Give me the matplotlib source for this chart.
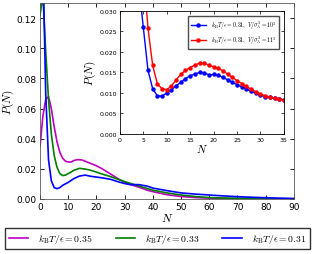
import matplotlib
matplotlib.use("Agg")
import matplotlib.pyplot as plt

plt.rcParams['mathtext.fontset'] = 'cm'
plt.rcParams['font.family'] = 'DejaVu Sans'

# Main panel: cluster size distribution P(N) for three temperatures
n_035 = [0, 1, 2, 3, 4, 5, 6, 7, 8, 9, 10, 11, 12, 13, 14, 15, 16, 18, 20, 22, 25, 28,
         30, 32, 35, 38, 40, 45, 50, 55, 60, 65, 70, 75, 80, 85, 90]
p_035 = [0.035, 0.055, 0.066, 0.068, 0.060, 0.048, 0.038, 0.031, 0.027, 0.025, 0.0245,
         0.0245, 0.0255, 0.026, 0.026, 0.0258, 0.025, 0.0235, 0.022, 0.020, 0.0165, 0.013,
         0.011, 0.0095, 0.0078, 0.0058, 0.0048, 0.0028, 0.0016, 0.0009, 0.0005, 0.0003,
         0.0002, 0.0001, 0.0001, 0.00005, 0.0]

n_033 = [0, 1, 2, 3, 4, 5, 6, 7, 8, 9, 10, 12, 14, 16, 18, 20, 22, 25, 28, 30, 35, 40,
         45, 50, 55, 60, 65, 70, 75, 80, 85, 90]
p_033 = [0.122, 0.135, 0.098, 0.066, 0.043, 0.029, 0.021, 0.0168, 0.0155, 0.0158, 0.0168,
         0.019, 0.0203, 0.0198, 0.019, 0.0178, 0.0165, 0.0148, 0.0128, 0.0115, 0.0086,
         0.0058, 0.004, 0.0026, 0.0016, 0.0009, 0.0006, 0.0004, 0.0003, 0.0002, 0.0001, 0.0]

n_031 = [0, 1, 2, 3, 4, 5, 6, 7, 8, 9, 10, 12, 14, 16, 18, 20, 22, 25, 28, 30, 32, 35,
         38, 40, 45, 50, 55, 60, 65, 70, 75, 80, 85, 90]
p_031 = [0.36, 0.16, 0.07, 0.026, 0.012, 0.0075, 0.0068, 0.0075, 0.009, 0.010, 0.011,
         0.0135, 0.0152, 0.0158, 0.015, 0.0145, 0.014, 0.013, 0.0112, 0.0102, 0.0095,
         0.0095, 0.0085, 0.0072, 0.0055, 0.004, 0.0032, 0.0026, 0.002, 0.0015, 0.0011,
         0.0008, 0.0005, 0.0003]

# Inset: kBT/eps = 0.31 for two box volumes
n_inset = list(range(4, 36))
p_v10 = [0.0368, 0.026, 0.0155, 0.011, 0.0093, 0.0092, 0.010, 0.0108, 0.0117, 0.0126,
         0.0135, 0.0142, 0.0146, 0.015, 0.0149, 0.0144, 0.0145, 0.0143, 0.0138, 0.0132,
         0.0126, 0.012, 0.0115, 0.011, 0.0104, 0.0099, 0.0094, 0.0091, 0.0089, 0.0087,
         0.0085, 0.0083]
p_v11 = [0.06, 0.040, 0.0258, 0.0167, 0.0122, 0.011, 0.0108, 0.0117, 0.0132, 0.0145,
         0.0155, 0.0162, 0.0168, 0.0173, 0.0172, 0.0168, 0.0164, 0.016, 0.0154, 0.0146,
         0.0138, 0.013, 0.0123, 0.0116, 0.0109, 0.0103, 0.0097, 0.0093, 0.009, 0.0087,
         0.0085, 0.0083]

main_labels = [r'$k_{\rm B}T/\epsilon=0.35$', r'$k_{\rm B}T/\epsilon=0.33$',
               r'$k_{\rm B}T/\epsilon=0.31$']
inset_labels = [r'$k_{\rm B}T/\epsilon=0.31,\ V/\sigma_{\rm A}^3=10^3$',
                r'$k_{\rm B}T/\epsilon=0.31,\ V/\sigma_{\rm A}^3=11^3$']

fig = plt.figure(figsize=(3.13, 2.55), dpi=100)
ax = fig.add_axes([0.128, 0.216, 0.811, 0.768])

l1, = ax.plot(n_035, p_035, color='m', lw=1.2, label=main_labels[0])
l2, = ax.plot(n_033, p_033, color='g', lw=1.2, label=main_labels[1])
l3, = ax.plot(n_031, p_031, color='b', lw=1.2, label=main_labels[2])

ax.set_xlim(0, 90)
ax.set_ylim(0, 0.13)
ax.set_xticks(range(0, 91, 10))
ax.set_yticks([0.00, 0.02, 0.04, 0.06, 0.08, 0.10, 0.12])
ax.set_yticklabels(['0.00', '0.02', '0.04', '0.06', '0.08', '0.10', '0.12'])
ax.tick_params(direction='in', top=True, right=True, labelsize=6.5, length=3, width=0.6,
               pad=2.5)
ax.set_xlabel(r'$N$', fontsize=8.5, labelpad=0)
ax.set_ylabel(r'$P(N)$', fontsize=8, labelpad=0.5)
for s in ax.spines.values():
    s.set_linewidth(0.6)
    s.set_color('0.35')

# Inset
axi = fig.add_axes([0.383, 0.471, 0.524, 0.482])
axi.plot(n_inset, p_v10, color='b', lw=1.0, marker='o', ms=2.2, mec='b',
         label=inset_labels[0])
axi.plot(n_inset, p_v11, color='r', lw=1.0, marker='o', ms=2.2, mec='r',
         label=inset_labels[1])
axi.set_xlim(0, 35)
axi.set_ylim(0, 0.030)
axi.set_xticks(range(0, 36, 5))
axi.set_yticks([0.000, 0.005, 0.010, 0.015, 0.020, 0.025, 0.030])
axi.set_yticklabels(['0.000', '0.005', '0.010', '0.015', '0.020', '0.025', '0.030'])
axi.tick_params(direction='in', top=True, right=True, labelsize=4.5, length=2, width=0.5,
                pad=2)
axi.set_xlabel(r'$N$', fontsize=8, labelpad=0)
axi.set_ylabel(r'$P(N)$', fontsize=8, labelpad=1)
for s in axi.spines.values():
    s.set_linewidth(0.6)
axi.legend(loc='upper right', fontsize=4.2, handlelength=2.6, borderpad=0.5,
           labelspacing=0.5, fancybox=False, edgecolor='0.3', framealpha=1,
           borderaxespad=0.8)

fig.legend(handles=[l1, l2, l3], loc='lower left', ncol=3, mode='expand',
           bbox_to_anchor=(5 / 313, 5 / 255, 305 / 313, 21 / 255), fontsize=7,
           handlelength=2.0, handletextpad=1.0, fancybox=False, edgecolor='0.2',
           framealpha=1, borderaxespad=0)

fig.savefig('out.png', dpi=100)
